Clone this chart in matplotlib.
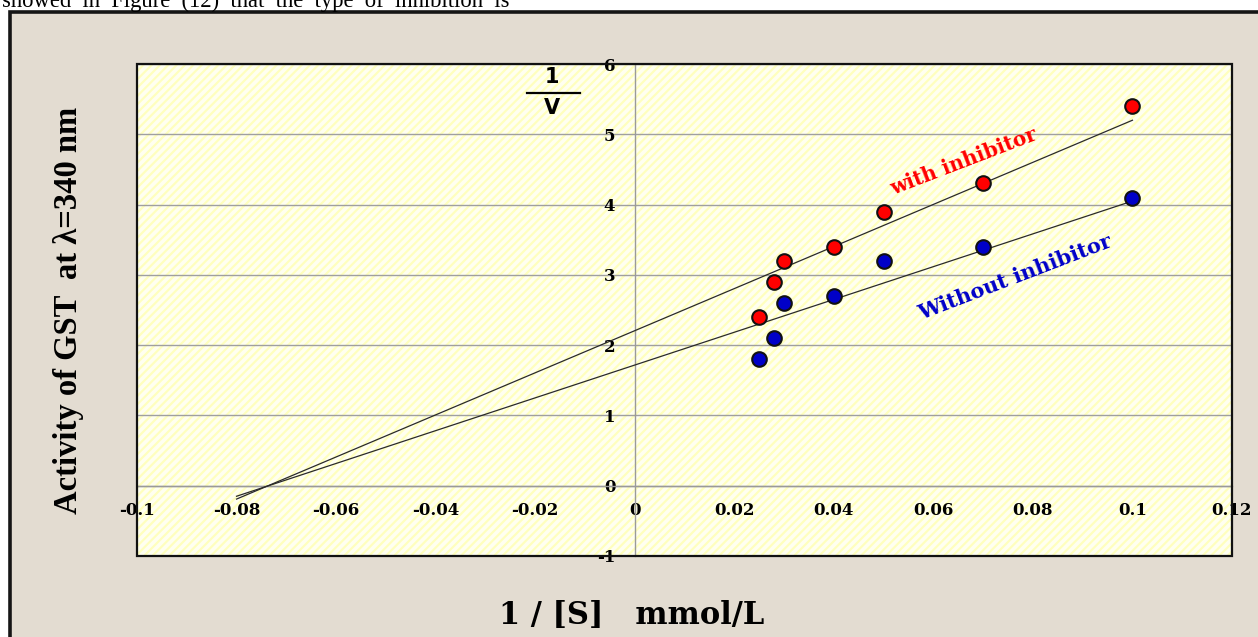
import matplotlib
matplotlib.use("Agg")
import matplotlib.pyplot as plt
from matplotlib.patches import Rectangle
from matplotlib.lines import Line2D

# data (Lineweaver-Burk plot)
inv_s = [0.025, 0.028, 0.03, 0.04, 0.05, 0.07, 0.1]
with_inhibitor = [2.4, 2.9, 3.2, 3.4, 3.9, 4.3, 5.4]
without_inhibitor = [1.8, 2.1, 2.6, 2.7, 3.2, 3.4, 4.1]

# trend lines (extended back to the x axis)
fit_x = [-0.08, 0.1]
fit_with = [-0.19, 5.2]
fit_without = [-0.15, 4.05]

x_ticks = [-0.1, -0.08, -0.06, -0.04, -0.02, 0, 0.02, 0.04, 0.06, 0.08, 0.1, 0.12]
x_labels = ["-0.1", "-0.08", "-0.06", "-0.04", "-0.02", "0",
            "0.02", "0.04", "0.06", "0.08", "0.1", "0.12"]
y_ticks = [-1, 0, 1, 2, 3, 4, 5, 6]
y_labels = ["-1", "0", "1", "2", "3", "4", "5", "6"]

plt.rcParams["hatch.linewidth"] = 1.6

W, H = 1258, 637
fig = plt.figure(figsize=(W / 100, H / 100), dpi=100)
fig.patch.set_facecolor("white")

# outer beige frame (runs off the right and bottom edges)
frame = Rectangle((10.3 / W, -0.1), 1.2, 1.1 - 11.7 / H, transform=fig.transFigure,
                  facecolor="#E3DCD1", edgecolor="#151515", lw=2.6, zorder=0)
fig.add_artist(frame)

# the cut-off line of body text above the figure
fig.text(2 / W, 1 - 6.5 / H, "showed  in  Figure  (12)  that  the  type  of  inhibition  is",
         fontsize=16.3, family="Liberation Serif", va="baseline", ha="left")

ax = fig.add_axes([137 / W, 1 - 556 / H, (1232 - 137) / W, (556 - 64) / H])
ax.set_xlim(-0.1, 0.12)
ax.set_ylim(-1, 6)

# hatched pale yellow plot area
ax.patch.set_facecolor("#FFFFF0")
hatch = Rectangle((0, 0), 1, 1, transform=ax.transAxes, facecolor="none",
                  edgecolor="#FFFFBE", hatch="////", lw=0, zorder=0.1)
ax.add_patch(hatch)

ax.grid(axis="y", color="#A0A0A0", lw=1.0)
ax.set_axisbelow(True)

for side in ["top", "right"]:
    ax.spines[side].set_visible(False)
for side in ["left", "bottom"]:
    ax.spines[side].set_position(("data", 0))
    ax.spines[side].set_color("#9A9A9A")
    ax.spines[side].set_linewidth(1.0)

box = Rectangle((0, 0), 1, 1, transform=ax.transAxes, fill=False,
                edgecolor="#111111", lw=1.6, zorder=6, clip_on=False)
ax.add_patch(box)

tick_font = dict(family="DejaVu Serif", weight="bold", size=12)
ax.set_xticks(x_ticks, x_labels, **tick_font)
ax.set_yticks(y_ticks, y_labels, **tick_font)
ax.tick_params(axis="x", length=0, pad=12)
ax.tick_params(axis="y", length=0, pad=14)

ax.plot(fit_x, fit_with, color="#2A2A2A", lw=0.9, zorder=3)
ax.plot(fit_x, fit_without, color="#2A2A2A", lw=0.9, zorder=3)
ax.plot(inv_s, with_inhibitor, "o", mfc="#FF0000", mec="#111111", ms=10.5, mew=1.5, zorder=4)
ax.plot(inv_s, without_inhibitor, "o", mfc="#0000C8", mec="#111111", ms=10.5, mew=1.5, zorder=4)

ax.text(0.066, 4.61, "with inhibitor", color="#FF0000", rotation=21,
        ha="center", va="center", rotation_mode="anchor",
        family="DejaVu Serif", weight="bold", size=14.5)
ax.text(0.0764, 2.96, "Without inhibitor", color="#0000C8", rotation=21,
        ha="center", va="center", rotation_mode="anchor",
        family="DejaVu Serif", weight="bold", size=15)

# 1/V axis caption
fig.text(552 / W, 1 - 77 / H, "1", ha="center", va="center",
         family="DejaVu Sans", weight="bold", size=15)
fig.text(552 / W, 1 - 108 / H, "V", ha="center", va="center",
         family="DejaVu Sans", weight="bold", size=15)
fig.add_artist(Line2D([527 / W, 580 / W], [1 - 93 / H, 1 - 93 / H],
                      transform=fig.transFigure, color="black", lw=1.6))

fig.text(69 / W, 1 - 310 / H, "Activity of GST  at \u03bb=340 nm", rotation=90,
         ha="center", va="center", family="Liberation Serif", weight="bold", size=23.5)
fig.text(632 / W, 1 - 615 / H, "1 / [S]   mmol/L", ha="center", va="center",
         family="DejaVu Serif", weight="bold", size=22)

fig.savefig("out.png", dpi=100, facecolor=fig.get_facecolor())
